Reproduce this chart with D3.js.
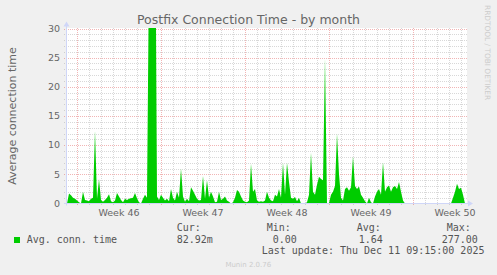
<!DOCTYPE html>
<html>
<head>
<meta charset="utf-8">
<script src="https://cdn.jsdelivr.net/npm/d3@7"></script>
<style>
  body { margin: 0; background: #F0F0F0; }
  text { font-family: "DejaVu Sans", sans-serif; }
  .mono { font-family: "DejaVu Sans Mono", monospace; font-size: 10px; fill: #555; }
</style>
</head>
<body>
<script>
// Postfix avg. connection time, 4-hour averages, starting Nov 9 2025 02:00 UTC
const startTime = Date.UTC(2025, 10, 9, 2);
const stepHours = 4;
const avgConn = [
  0, 1.7, 1.4, 1.0, 0.8, 0.5, 0.2, 0, 2.0, 0.6,
  0.5, 0.4, 0.8, 1.0, 12.5, 0.8, 4.2, 0.6, 0.3, 0.6,
  1.0, 1.6, 0.4, 0.2, 0.5, 1.8, 1.2, 0.6, 0.2, 0.8,
  0.6, 0.8, 0.9, 1.0, 1.8, 0.9, 0.2, 0, 0.8, 1.5,
  1.0, 40, 277, 120, 60, 1.2, 0.6, 1.5, 1.0, 0.5,
  0.8, 0.4, 2.5, 1.0, 0.5, 2.0, 1.0, 6.0, 1.2, 0.3,
  0.8, 0.4, 2.8, 2.2, 1.5, 0.8, 0.5, 0.6, 4.7, 0.8,
  4.0, 1.0, 2.0, 1.2, 0.2, 0.3, 2.0, 0.6, 0.8, 1.2,
  0.5, 0.3, 0, 0.2, 1.0, 2.3, 2.0, 1.2, 0.5, 0.3,
  0.2, 0.5, 6.8, 2.0, 2.5, 0.5, 0.3, 0.4, 0.3, 0.5,
  2.0, 1.0, 0.5, 0.4, 1.5, 1.2, 2.5, 1.0, 7.0, 1.5,
  7.0, 3.7, 1.0, 0.8, 1.1, 0.4, 1.0, 0, 0, 0,
  0.2, 1.5, 8.7, 2.0, 1.5, 3.2, 4.6, 4.2, 4.0, 25,
  0, 0.1, 1.5, 2.0, 3.0, 12.0, 5.0, 1.0, 0.5, 2.5,
  2.8, 2.2, 2.8, 8.1, 3.0, 2.5, 2.9, 1.5, 1.0, 0.4,
  0, 1.0, 0.2, 0, 1.2, 2.0, 2.5, 1.5, 7.1, 2.0,
  2.8, 3.1, 2.0, 2.8, 3.0, 2.5, 3.7, 2.0, 0.5, 0,
  0, 0, 0, 0, 0, 0, 0, 0, 0, 0,
  0, 0, 0, 0, 0, 0, 0, 0, 0, 0,
  0, 0, 0, 1.0, 2.0, 3.4, 2.5, 2.7, 1.5, 0
];
const yTicks = [0, 5, 10, 15, 20, 25, 30];
const legendRows = [
  { label: "Cur:", value: "82.92m", lx: 176.7, vx: 176.7 },
  { label: "Min:", value: "0.00", lx: 266.7, vx: 272.7 },
  { label: "Avg:", value: "1.64", lx: 356.7, vx: 358.7 },
  { label: "Max:", value: "277.00", lx: 446.7, vx: 441.7 }
];

const width = 497, height = 275;
const plot = { left: 66, right: 466, top: 28.5, bottom: 203.5 };

const svg = d3.select("body")
    .append("svg")
    .attr("width", width)
    .attr("height", height);

svg.append("rect").attr("width", width).attr("height", height).attr("fill", "#F0F0F0");

// Scales
const x = d3.scaleUtc()
    .domain([new Date(startTime), new Date(startTime + 800 * 3600e3)])
    .range([plot.left, plot.right]);
const y = d3.scaleLinear().domain([0, 30]).range([plot.bottom, plot.top]);

// Canvas
svg.append("rect")
    .attr("x", plot.left).attr("y", plot.top - 0.5)
    .attr("width", plot.right - plot.left + 1).attr("height", plot.bottom - plot.top)
    .attr("fill", "#fff");

const gridColor = "rgba(143,143,143,0.35)";
const mgridColor = "rgba(222,79,79,0.42)";
const grid = svg.append("g").attr("shape-rendering", "crispEdges").attr("stroke-dasharray", "1,1");

// Horizontal grid: minor each 1, major each 5
d3.range(1, 31).forEach(v => {
    grid.append("line")
        .attr("x1", plot.left - 2).attr("x2", plot.right + 1)
        .attr("y1", Math.round(y(v)) + 0.5).attr("y2", Math.round(y(v)) + 0.5)
        .attr("stroke", v % 5 === 0 ? mgridColor : gridColor);
});

// Vertical grid: minor each day, major each week (Monday)
const weeks = d3.utcMonday.range(x.domain()[0], x.domain()[1]);
d3.utcDay.range(x.domain()[0], x.domain()[1]).forEach(d => {
    const isMajor = weeks.some(w => +w === +d);
    const px = Math.round(x(d)) + 0.5;
    if (px <= plot.left + 1) return;
    grid.append("line")
        .attr("x1", px).attr("x2", px)
        .attr("y1", plot.top - 0.5).attr("y2", plot.bottom + 2)
        .attr("stroke", isMajor ? mgridColor : gridColor);
});

// Area
svg.append("clipPath").attr("id", "clip")
    .append("rect")
    .attr("x", plot.left).attr("y", plot.top - 0.5)
    .attr("width", plot.right - plot.left).attr("height", plot.bottom - plot.top + 0.5);

const area = d3.area()
    .x((d, i) => x(new Date(startTime + (i + 0.5) * stepHours * 3600e3)))
    .y0(y(0))
    .y1(d => y(d));

svg.append("path")
    .datum(avgConn)
    .attr("clip-path", "url(#clip)")
    .attr("fill", "#00CC00")
    .attr("d", area);

// Axes with arrows
const axisColor = "#CFD6F8";
svg.append("line")
    .attr("x1", plot.left - 2).attr("x2", plot.right + 2)
    .attr("y1", plot.bottom).attr("y2", plot.bottom)
    .attr("stroke", axisColor);
svg.append("line")
    .attr("x1", plot.left + 0.5).attr("x2", plot.left + 0.5)
    .attr("y1", plot.bottom + 2).attr("y2", plot.top - 3)
    .attr("stroke", axisColor);
svg.append("path")
    .attr("d", `M${plot.right + 7},${plot.bottom} L${plot.right + 2},${plot.bottom - 3} L${plot.right + 2},${plot.bottom + 3} Z`)
    .attr("fill", axisColor);
svg.append("path")
    .attr("d", `M${plot.left + 0.5},${plot.top - 7} L${plot.left - 2.5},${plot.top - 2} L${plot.left + 3.5},${plot.top - 2} Z`)
    .attr("fill", axisColor);

// Tick labels
svg.append("g").selectAll("text")
    .data(yTicks)
    .join("text")
    .attr("x", 60).attr("y", d => y(d))
    .attr("dy", "0.35em")
    .attr("text-anchor", "end")
    .attr("font-size", 9.5)
    .attr("fill", "#666")
    .text(d => d);

svg.append("g").selectAll("text")
    .data(weeks)
    .join("text")
    .attr("x", d => x(d3.utcHour.offset(d, 84)))
    .attr("y", 216)
    .attr("text-anchor", "middle")
    .attr("font-size", 9.5)
    .attr("fill", "#666")
    .text(d => "Week " + d3.utcFormat("%V")(d));

// Titles
svg.append("text")
    .attr("x", width / 2).attr("y", 23.5)
    .attr("text-anchor", "middle")
    .attr("font-size", 12.5)
    .attr("fill", "#666")
    .text("Postfix Connection Time - by month");

svg.append("text")
    .attr("transform", `translate(15.5,${(plot.top + plot.bottom) / 2}) rotate(-90)`)
    .attr("text-anchor", "middle")
    .attr("font-size", 11)
    .attr("fill", "#666")
    .text("Average connection time");

svg.append("text")
    .attr("transform", "translate(485,5) rotate(90)")
    .attr("font-size", 7.4)
    .attr("fill", "#ccc")
    .text("RRDTOOL / TOBI OETIKER");

// Legend
svg.append("rect")
    .attr("x", 14).attr("y", 237).attr("width", 6).attr("height", 6)
    .attr("fill", "#00CC00");
svg.append("text").attr("class", "mono").attr("x", 26.7).attr("y", 242.7).text("Avg. conn. time");

legendRows.forEach(r => {
    svg.append("text").attr("class", "mono").attr("x", r.lx).attr("y", 231).text(r.label);
    svg.append("text").attr("class", "mono").attr("x", r.vx).attr("y", 242.7).text(r.value);
});

svg.append("text").attr("class", "mono").attr("x", 261.7).attr("y", 254.3)
    .text("Last update: Thu Dec 11 09:15:00 2025");

svg.append("text")
    .attr("x", 248.3).attr("y", 267.3)
    .attr("text-anchor", "middle")
    .attr("font-size", 7)
    .attr("fill", "#ccc")
    .text("Munin 2.0.76");
</script>
</body>
</html>
